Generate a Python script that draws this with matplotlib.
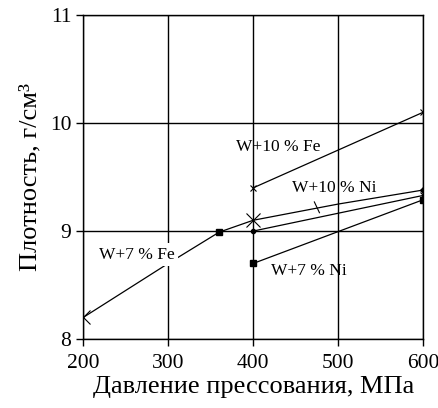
import matplotlib
matplotlib.use("Agg")
import matplotlib.pyplot as plt

plt.rcParams['font.family'] = ['Liberation Serif', 'DejaVu Serif']

# W+7 % Fe
fe7_x = [200, 300, 360, 400, 500, 600]
fe7_y = [8.20, 8.70, 8.99, 9.10, 9.25, 9.38]
# W+10 % Fe
fe10_x = [400, 600]
fe10_y = [9.40, 10.10]
# W+10 % Ni
ni10_x = [400, 600]
ni10_y = [9.00, 9.33]
# W+7 % Ni
ni7_x = [400, 600]
ni7_y = [8.70, 9.29]

xticks = [200, 300, 400, 500, 600]
yticks = [8, 9, 10, 11]

fig = plt.figure(figsize=(4.38, 4.08), dpi=100)
ax = fig.add_axes([0.19, 0.169, 0.776, 0.794])

ax.grid(True, color='black', linewidth=1.0)
ax.set_axisbelow(True)

lw = 0.9
ax.plot(fe7_x, fe7_y, color='black', linewidth=lw)
ax.plot([200, 400], [8.20, 9.10], 'x', color='black', markersize=10, markeredgewidth=0.8)
ax.plot([360], [8.99], 's', color='black', markersize=4.5)
ax.plot([600], [9.38], 'D', color='black', markersize=3)

ax.plot(fe10_x, fe10_y, color='black', linewidth=lw, marker='x', markersize=4, markeredgewidth=0.8)
ax.plot(ni10_x, ni10_y, color='black', linewidth=lw)
ax.plot([400], [9.00], 'o', color='black', markersize=3)
ax.plot([600], [9.33], 'x', color='black', markersize=5, markeredgewidth=0.8)
ax.plot(ni7_x, ni7_y, color='black', linewidth=lw, marker='s', markersize=5)

# leader for W+10 % Ni
ax.plot([472, 478], [9.27, 9.17], color='black', linewidth=0.8)

tfs = 12.5
ax.text(430, 9.78, 'W+10 % Fe', fontsize=tfs, ha='center', va='center')
ax.text(496, 9.40, 'W+10 % Ni', fontsize=tfs, ha='center', va='center')
ax.text(263, 8.78, 'W+7 % Fe', fontsize=tfs, ha='center', va='center',
        bbox=dict(facecolor='white', edgecolor='none', pad=2.5))
ax.text(465, 8.63, 'W+7 % Ni', fontsize=tfs, ha='center', va='center')

ax.set_xlim(200, 600)
ax.set_ylim(8, 11)
ax.set_xticks(xticks)
ax.set_yticks(yticks)
ax.tick_params(direction='out', length=5, width=1, labelsize=15.5, colors='black')
ax.tick_params(axis='x', pad=6)
for s in ax.spines.values():
    s.set_linewidth(1.0)
    s.set_color('black')

ax.set_xlabel('Давление прессования, МПа', fontsize=19, labelpad=2)
ax.set_ylabel('Плотность, г/см³', fontsize=19, labelpad=6)

fig.savefig('out.png', dpi=100)
